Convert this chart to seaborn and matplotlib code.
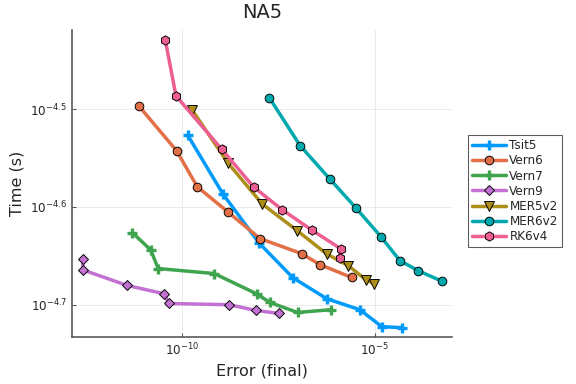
import numpy as np
import pandas as pd
import matplotlib
matplotlib.use('Agg')
import matplotlib.pyplot as plt
import seaborn as sns

# log10 of error / time
tsit5_x = [-9.852, -8.938, -8.005, -7.124, -6.244, -5.389, -4.819, -4.301]
tsit5_y = [-4.5265, -4.5867, -4.6367, -4.6724, -4.6939, -4.7051, -4.7224, -4.7235]
vern6_x = [-11.114, -10.137, -9.604, -8.80, -7.979, -6.899, -6.425, -5.604]
vern6_y = [-4.4969, -4.5426, -4.5793, -4.6054, -4.6323, -4.6477, -4.6589, -4.6721]
vern7_x = [-11.288, -10.811, -10.614, -9.163, -8.065, -7.72, -7.003, -6.148]
vern7_y = [-4.6262, -4.6439, -4.663, -4.6681, -4.6888, -4.6977, -4.7079, -4.7051]
vern9_x = [-12.573, -12.573, -11.417, -10.459, -10.345, -8.775, -8.083, -7.487]
vern9_y = [-4.6534, -4.6643, -4.6803, -4.6888, -4.6987, -4.7, -4.7058, -4.7089]
mer5_x = [-9.733, -8.80, -7.92, -7.013, -6.251, -5.692, -5.233, -5.034]
mer5_y = [-4.501, -4.5554, -4.5969, -4.6242, -4.648, -4.6599, -4.6745, -4.6783]
mer6_x = [-7.738, -6.935, -6.174, -5.484, -4.845, -4.352, -3.886, -3.264]
mer6_y = [-4.4881, -4.5374, -4.5711, -4.6013, -4.6303, -4.6548, -4.665, -4.6759]
rk6_x = [-10.433, -10.155, -8.972, -8.135, -7.402, -6.64, -5.889, -5.915]
rk6_y = [-4.4289, -4.4864, -4.5408, -4.5799, -4.6028, -4.6235, -4.6426, -4.652]

names = ['Tsit5', 'Vern6', 'Vern7', 'Vern9', 'MER5v2', 'MER6v2', 'RK6v4']
xs = [tsit5_x, vern6_x, vern7_x, vern9_x, mer5_x, mer6_x, rk6_x]
ys = [tsit5_y, vern6_y, vern7_y, vern9_y, mer5_y, mer6_y, rk6_y]
colors = ['#009AFA', '#E36F47', '#3EA44E', '#C371D2', '#AC8E18', '#00A9AD', '#ED5E93']
markers = ['P', 'o', 'P', 'D', 'v', 'o', 'h']

sns.set_style('ticks')
plt.rcParams['font.family'] = ['DejaVu Sans']

fig = plt.figure(figsize=(6, 4), dpi=96)
ax = fig.add_axes([72 / 576, 1 - 337 / 384, 380 / 576, 307 / 384])

for name, x, y, c, m in zip(names, xs, ys, colors, markers):
    df = pd.DataFrame({'err': 10 ** np.array(x), 'time': 10 ** np.array(y)})
    if m == 'P':
        mk = dict(marker='+', markersize=7, markeredgewidth=2.5, markeredgecolor=c)
    else:
        ms = {'o': 6.5, 'D': 5, 'v': 7, 'h': 7}[m]
        mk = dict(marker=m, markersize=ms, markeredgewidth=0.7, markeredgecolor='black')
    sns.lineplot(data=df, x='err', y='time', sort=False, estimator=None, ax=ax,
                 color=c, linewidth=2.6, label=name, **mk)

ax.set_xscale('log')
ax.set_yscale('log')
ax.set_xlim(10 ** -12.85, 10 ** -3.0)
ax.set_ylim(10 ** -4.733, 10 ** -4.419)

ax.xaxis.set_major_locator(matplotlib.ticker.FixedLocator([1e-10, 1e-5]))
ax.xaxis.set_major_formatter(matplotlib.ticker.FixedFormatter(['$10^{-10}$', '$10^{-5}$']))
ax.xaxis.set_minor_locator(matplotlib.ticker.NullLocator())
ax.yaxis.set_major_locator(matplotlib.ticker.FixedLocator([10 ** -4.7, 10 ** -4.6, 10 ** -4.5]))
ax.yaxis.set_major_formatter(matplotlib.ticker.FixedFormatter(['$10^{-4.7}$', '$10^{-4.6}$', '$10^{-4.5}$']))
ax.yaxis.set_minor_locator(matplotlib.ticker.NullLocator())

ax.grid(True, color='#e6e6e6', linewidth=0.6)
ax.tick_params(direction='in', length=3, labelsize=9, color='#555555')
for s in ['top', 'right']:
    ax.spines[s].set_visible(False)
for s in ['left', 'bottom']:
    ax.spines[s].set_color('#555555')
    ax.spines[s].set_linewidth(1.2)

ax.set_title('NA5', fontsize=14.5, pad=9)
ax.set_xlabel('Error (final)', fontsize=12)
ax.set_ylabel('Time (s)', fontsize=12)

leg = ax.legend(loc='upper left', bbox_to_anchor=(468 / 576, 1 - 135 / 384),
                bbox_transform=fig.transFigure, fontsize=9, frameon=True,
                fancybox=False, edgecolor='#333333', handlelength=2.8,
                borderaxespad=0, labelspacing=0.18, handletextpad=0.3,
                borderpad=0.35)
leg.get_frame().set_linewidth(0.8)

plt.savefig('out.png', dpi=96)
